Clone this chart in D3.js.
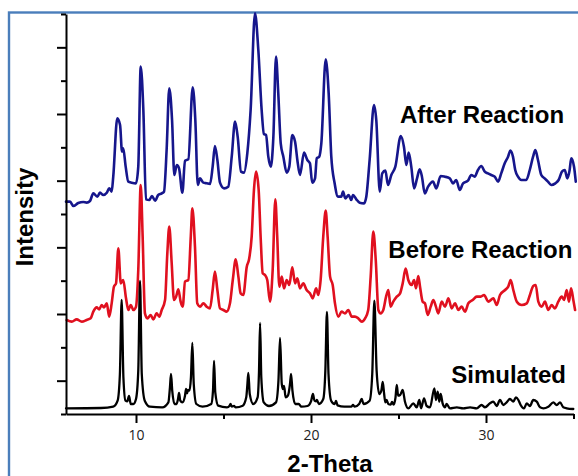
<!DOCTYPE html>
<html><head><meta charset="utf-8">
<script src="https://cdn.jsdelivr.net/npm/d3@7"></script>
<style>html,body{margin:0;padding:0;background:#fff;} svg{display:block}</style>
</head><body>
<svg id="chart" width="578" height="476"></svg>
<script>
// ---------- data ----------
const xMajorTicks = [10, 20, 30];
const xMinorTicks = [15, 25, 35];
const yMajorTicks = [100, 300, 500, 700, 900, 1100];
const yMinorTicks = [0, 200, 400, 600, 800, 1000, 1200];
const seriesNames = ["After Reaction", "Before Reaction", "Simulated"];
const seriesColors = ["#16168c", "#e0101f", "#000000"];

const afterReaction = [
[6.0,637],[6.23,637],[6.42,624],[6.70,633],[6.99,636],[7.18,634],[7.37,639],[7.56,662],[7.79,652],[7.94,664],
[8.13,657],[8.33,664],[8.47,677],[8.61,667],[8.70,712],[8.93,887],[9.09,867],[9.20,787],[9.27,797],[9.41,742],
[9.56,697],[9.75,694],[10.0,692],[10.13,742],[10.27,1042],[10.42,912],[10.57,644],[10.76,642],[10.91,654],[11.09,640],
[11.27,657],[11.47,662],[11.60,667],[11.75,792],[11.90,977],[12.06,882],[12.19,717],[12.33,747],[12.46,737],[12.65,664],
[12.80,760],[12.99,764],[13.24,980],[13.39,882],[13.53,687],[13.66,707],[13.85,694],[14.04,692],[14.23,690],[14.38,742],
[14.51,804],[14.65,762],[14.80,694],[15.03,677],[15.27,682],[15.47,772],[15.66,877],[15.81,832],[16.00,727],[16.17,724],
[16.36,782],[16.55,912],[16.80,1202],[16.99,1092],[17.18,912],[17.31,840],[17.43,837],[17.56,772],[17.70,742],[17.85,832],
[18.00,1072],[18.13,962],[18.27,812],[18.42,772],[18.61,724],[18.76,742],[18.93,837],[19.09,817],[19.22,762],[19.37,717],
[19.60,784],[19.79,762],[19.94,752],[20.07,694],[20.23,707],[20.33,767],[20.47,772],[20.59,812],[20.84,1064],[21.01,962],
[21.16,772],[21.35,692],[21.54,652],[21.73,652],[21.83,667],[21.96,647],[22.15,657],[22.30,642],[22.40,657],[22.59,644],
[22.78,634],[23.03,632],[23.16,652],[23.35,762],[23.60,927],[23.73,882],[23.93,667],[24.07,722],[24.25,730],[24.40,687],
[24.59,717],[24.82,742],[25.13,834],[25.31,802],[25.45,747],[25.58,784],[25.73,742],[25.89,677],[26.06,707],[26.21,734],
[26.34,712],[26.50,662],[26.69,682],[26.97,697],[27.16,677],[27.41,714],[27.64,712],[27.93,707],[28.11,692],[28.30,702],
[28.50,672],[28.69,692],[28.97,700],[29.16,717],[29.35,712],[29.54,732],[29.73,744],[29.93,727],[30.11,722],[30.30,717],
[30.50,712],[30.69,697],[30.87,722],[31.07,752],[31.26,772],[31.39,790],[31.54,772],[31.67,732],[31.83,712],[32.02,702],
[32.30,702],[32.50,732],[32.69,772],[32.82,792],[32.97,762],[33.16,717],[33.35,707],[33.54,697],[33.73,687],[33.96,692],
[34.15,702],[34.34,727],[34.50,732],[34.65,707],[34.78,732],[34.87,767],[35.03,742],[35.13,697]
];

const beforeReaction = [
[6.04,282],[6.33,277],[6.61,284],[6.90,277],[7.18,282],[7.41,287],[7.56,307],[7.75,320],[7.90,314],[8.04,327],
[8.17,320],[8.33,332],[8.47,292],[8.61,332],[8.74,382],[8.86,392],[8.99,497],[9.13,392],[9.27,402],[9.43,347],
[9.56,312],[9.70,327],[9.85,312],[10.0,322],[10.13,432],[10.27,687],[10.38,532],[10.51,302],[10.65,287],[10.84,297],
[10.99,284],[11.18,302],[11.33,292],[11.47,312],[11.66,342],[11.79,482],[11.90,562],[12.04,452],[12.17,342],[12.29,352],
[12.42,374],[12.55,337],[12.67,322],[12.80,397],[12.99,402],[13.13,532],[13.22,617],[13.37,502],[13.50,332],[13.66,322],
[13.85,332],[14.04,322],[14.23,317],[14.38,372],[14.51,427],[14.65,372],[14.80,317],[14.99,312],[15.18,307],[15.37,332],
[15.53,402],[15.70,464],[15.85,412],[15.98,362],[16.13,357],[16.33,442],[16.46,464],[16.61,532],[16.74,672],[16.86,727],
[17.01,672],[17.13,522],[17.24,422],[17.37,417],[17.50,402],[17.66,337],[17.81,432],[17.96,644],[18.07,532],[18.19,382],
[18.33,412],[18.46,377],[18.61,402],[18.76,387],[18.93,440],[19.09,392],[19.22,407],[19.37,377],[19.56,392],[19.75,372],
[19.94,362],[20.10,347],[20.29,377],[20.42,357],[20.55,402],[20.70,532],[20.84,610],[20.95,532],[21.09,412],[21.24,387],
[21.37,332],[21.56,292],[21.75,307],[21.94,302],[22.13,312],[22.33,292],[22.51,292],[22.70,287],[22.90,277],[23.09,287],
[23.27,312],[23.41,412],[23.56,547],[23.70,462],[23.85,312],[23.98,302],[24.13,312],[24.29,352],[24.42,372],[24.55,322],
[24.70,337],[24.90,352],[25.09,362],[25.24,392],[25.41,436],[25.56,402],[25.75,387],[25.89,402],[26.00,377],[26.13,414],
[26.23,382],[26.38,337],[26.51,332],[26.67,297],[26.84,322],[26.99,342],[27.14,322],[27.27,302],[27.47,337],[27.66,322],
[27.85,347],[28.04,317],[28.23,332],[28.42,312],[28.61,322],[28.80,307],[28.99,332],[29.24,342],[29.47,352],[29.70,352],
[29.89,357],[30.13,337],[30.42,347],[30.61,327],[30.80,357],[31.09,372],[31.27,382],[31.41,402],[31.56,372],[31.76,337],
[32.04,327],[32.33,332],[32.51,357],[32.70,384],[32.84,387],[32.99,337],[33.18,322],[33.37,337],[33.56,312],[33.75,327],
[33.94,317],[34.13,337],[34.33,352],[34.46,342],[34.61,372],[34.74,337],[34.86,377],[34.99,342],[35.09,312]
];

const simulated = [
[6.0,17],[8.0,18],[8.7,22],[8.95,40],[9.08,120],[9.18,342],[9.28,110],[9.4,40],[9.5,38],[9.6,54],
[9.7,30],[9.85,30],[10.0,45],[10.13,130],[10.23,399],[10.33,120],[10.5,40],[10.8,22],[11.5,20],[11.85,35],
[11.94,80],[12.0,120],[12.07,70],[12.2,30],[12.32,30],[12.4,45],[12.46,63],[12.53,40],[12.65,35],[12.8,55],
[12.86,75],[12.92,62],[12.97,72],[13.05,70],[13.14,110],[13.22,213],[13.3,90],[13.45,30],[13.8,22],[14.3,30],
[14.4,70],[14.46,159],[14.53,65],[14.7,25],[15.2,20],[15.35,25],[15.4,30],[15.48,22],[15.6,24],[15.7,20],
[16.1,25],[16.3,50],[16.36,85],[16.42,123],[16.5,60],[16.7,30],[16.95,50],[17.03,130],[17.09,273],[17.16,110],
[17.3,35],[17.6,24],[18.0,35],[18.14,100],[18.23,228],[18.33,90],[18.4,75],[18.46,84],[18.55,50],[18.68,55],
[18.8,90],[18.86,120],[18.94,70],[19.1,30],[19.3,30],[19.45,22],[19.8,24],[20.0,38],[20.11,60],[20.2,40],
[20.3,38],[20.34,42],[20.45,30],[20.7,45],[20.82,130],[20.91,306],[21.0,120],[21.15,40],[21.35,30],[21.43,39],
[21.52,26],[21.9,22],[22.3,22],[22.4,27],[22.5,22],[22.75,30],[22.9,45],[23.0,30],[23.35,40],[23.5,120],
[23.62,340],[23.75,130],[23.9,60],[24.02,70],[24.1,96],[24.18,60],[24.25,35],[24.32,42],[24.42,30],[24.55,28],
[24.63,36],[24.72,28],[24.83,50],[24.9,87],[24.98,55],[25.09,57],[25.24,72],[25.37,37],[25.56,17],[25.85,32],
[26.04,20],[26.19,42],[26.29,17],[26.46,47],[26.61,24],[26.80,20],[27.05,77],[27.14,42],[27.24,67],[27.33,37],
[27.41,60],[27.52,32],[27.66,20],[27.75,30],[27.94,17],[28.33,20],[28.70,17],[29.09,20],[29.47,17],[29.75,27],
[29.94,20],[30.23,32],[30.42,37],[30.61,24],[30.80,42],[30.99,27],[31.18,35],[31.37,45],[31.56,37],[31.71,50],
[31.85,42],[31.98,27],[32.17,17],[32.33,32],[32.51,24],[32.70,42],[32.90,37],[33.09,20],[33.28,17],[33.56,22],
[33.85,35],[34.04,27],[34.23,35],[34.42,20],[34.61,17],[34.99,15]
];

// ---------- chart ----------
const svg = d3.select("#chart");
const x = d3.scaleLinear().domain([6, 35]).range([66, 573.5]);
const y = d3.scaleLinear().domain([0, 1200]).range([414, 14]);

// frame
svg.append("rect").attr("x", 9).attr("y", 12.5).attr("width", 620).attr("height", 520)
  .attr("fill", "none").attr("stroke", "#4a7ebb").attr("stroke-width", 2.4);

const line = d3.line().x(d => x(d[0])).y(d => y(d[1])).curve(d3.curveMonotoneX);
const series = [afterReaction, beforeReaction, simulated];
series.forEach((s, i) => {
  svg.append("path").datum(s).attr("d", line).attr("fill", "none")
    .attr("stroke", seriesColors[i]).attr("stroke-width", i === 2 ? 2.3 : 2.6)
    .attr("stroke-linejoin", "round").attr("stroke-linecap", "round");
});

function styleAxis(g) {
  g.selectAll("path,line").attr("stroke", "#000").attr("stroke-width", 2);
  g.selectAll("text").attr("font-family", "'Open Sans', 'Liberation Sans', sans-serif")
    .attr("font-size", 14).attr("fill", "#222");
}

// x axis
const gxMinor = svg.append("g").attr("transform", "translate(0,414)")
  .call(d3.axisBottom(x).tickValues(xMinorTicks).tickSize(5).tickSizeOuter(0).tickFormat(""));
styleAxis(gxMinor);
gxMinor.select(".domain").remove();
const gx = svg.append("g").attr("transform", "translate(0,414)")
  .call(d3.axisBottom(x).tickValues(xMajorTicks).tickSize(9).tickSizeOuter(0).tickPadding(7).tickFormat(d3.format("d")));
styleAxis(gx);

// y axis
const gyMinor = svg.append("g").attr("transform", "translate(66,0)")
  .call(d3.axisLeft(y).tickValues(yMinorTicks).tickSize(5).tickSizeOuter(0).tickFormat(""));
styleAxis(gyMinor);
gyMinor.select(".domain").remove();
const gy = svg.append("g").attr("transform", "translate(66,0)")
  .call(d3.axisLeft(y).tickValues(yMajorTicks).tickSize(9).tickSizeOuter(0).tickFormat(""));
styleAxis(gy);

// titles
const bold = "'Liberation Sans', Arial, sans-serif";
svg.append("text").attr("x", 330).attr("y", 472).attr("text-anchor", "middle")
  .attr("font-family", bold).attr("font-weight", "bold").attr("font-size", 24).text("2-Theta");
svg.append("text").attr("transform", "translate(32.5,217) rotate(-90)").attr("text-anchor", "middle")
  .attr("font-family", bold).attr("font-weight", "bold").attr("font-size", 24).text("Intensity");

// series labels
const labelPos = [
  {t: 34.46, v: 873, anchor: "end"},
  {t: 24.42, v: 467, anchor: "start"},
  {t: 34.57, v: 93, anchor: "end"}
];
seriesNames.forEach((n, i) => {
  svg.append("text").attr("x", x(labelPos[i].t)).attr("y", y(labelPos[i].v))
    .attr("text-anchor", labelPos[i].anchor)
    .attr("font-family", bold).attr("font-weight", "bold").attr("font-size", 24).attr("fill", "#000").text(n);
});
</script>
</body></html>
